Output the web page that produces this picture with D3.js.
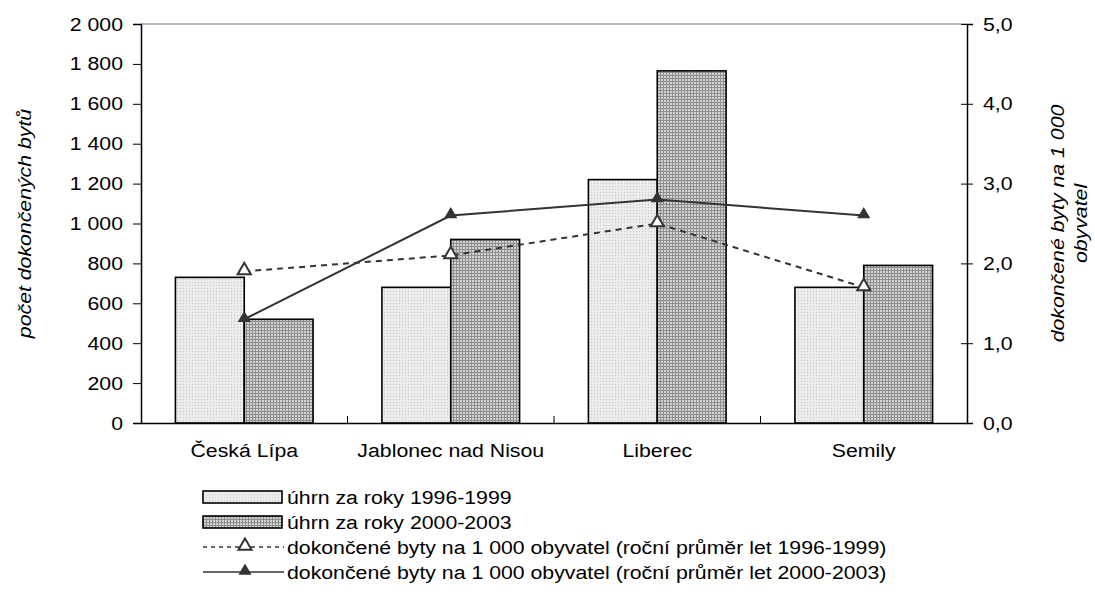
<!DOCTYPE html>
<html>
<head>
<meta charset="utf-8">
<script src="https://cdn.jsdelivr.net/npm/d3@7"></script>
<style>
  body { margin: 0; background: #fff; }
  text { font-family: "Liberation Sans", Arial, sans-serif; fill: #000; }
</style>
</head>
<body>
<div id="chartDiv"></div>
<script>
// data
var districts = ["Česká Lípa", "Jablonec nad Nisou", "Liberec", "Semily"];
var total9699 = [730, 680, 1220, 680];
var total0003 = [520, 920, 1765, 790];
var per1000_9699 = [1.9, 2.1, 2.5, 1.7];
var per1000_0003 = [1.3, 2.6, 2.8, 2.6];
var leftTicks = [0, 200, 400, 600, 800, 1000, 1200, 1400, 1600, 1800, 2000];
var rightTicks = [0, 1, 2, 3, 4, 5];
var legendLabels = [
    "úhrn za roky 1996-1999",
    "úhrn za roky 2000-2003",
    "dokončené byty na 1 000 obyvatel (roční průměr let 1996-1999)",
    "dokončené byty na 1 000 obyvatel (roční průměr let 2000-2003)"
];

var W = 1095, H = 604;
var margin = { top: 24, right: 128, bottom: 181, left: 141 };
var width = W - margin.left - margin.right,
    height = H - margin.top - margin.bottom;
var FS = "19px", SX = 1.12;   // the original text is a bit wider than Arial

var svg = d3.select("#chartDiv").append("svg")
    .attr("width", W)
    .attr("height", H);

// move the x of each text into a transform so it can be widened
function widen(sel) {
    sel.each(function () {
        var t = d3.select(this);
        var tx = +t.attr("x") || 0, ty = +t.attr("y") || 0;
        t.attr("x", 0).attr("y", 0)
            .attr("transform", "translate(" + tx + "," + ty + ") scale(" + SX + ",1)")
            .style("font-size", FS);
    });
}

// fill patterns go in defs
var defs = svg.append("defs");
var p1 = defs.append("pattern").attr("id", "pat1")
    .attr("width", 3).attr("height", 3).attr("patternUnits", "userSpaceOnUse");
p1.append("rect").attr("width", 3).attr("height", 3).attr("fill", "#ececec");
p1.append("rect").attr("width", 1).attr("height", 1).attr("fill", "#c8c8c8");
var p2 = defs.append("pattern").attr("id", "pat2")
    .attr("width", 3).attr("height", 3).attr("patternUnits", "userSpaceOnUse");
p2.append("rect").attr("width", 3).attr("height", 3).attr("fill", "#8e8e8e");
p2.append("rect").attr("x", 1).attr("y", 1).attr("width", 2).attr("height", 2).attr("fill", "#d2d2d2");

var g = svg.append("g")
    .attr("transform", "translate(" + margin.left + "," + margin.top + ")");

var x = d3.scaleBand().domain(districts).range([0, width]);
var xs = d3.scaleBand().domain([0, 1]).range([0, x.bandwidth()]).paddingOuter(0.5).paddingInner(0);
var y = d3.scaleLinear().domain([0, 2000]).range([height, 0]);
var y2 = d3.scaleLinear().domain([0, 5]).range([height, 0]);

var fmtLeft = function (d) { return d3.format(",")(d).replace(",", " "); };
var fmtRight = function (d) { return d.toFixed(1).replace(".", ","); };

// plot frame (top line)
g.append("line").attr("x1", 0).attr("x2", width).attr("y1", 0).attr("y2", 0)
    .attr("stroke", "#777").attr("stroke-width", 1);

// bars
var series = [total9699, total0003];
series.forEach(function (vals, si) {
    g.selectAll(".bar" + si)
        .data(vals)
        .enter().append("rect")
        .attr("x", function (d, i) { return x(districts[i]) + xs(si); })
        .attr("y", function (d) { return y(d); })
        .attr("width", xs.bandwidth())
        .attr("height", function (d) { return height - y(d); })
        .attr("fill", "url(#pat" + (si + 1) + ")")
        .attr("stroke", "#000")
        .attr("stroke-width", 1.6);
});

// left axis
var yAxis = g.append("g")
    .call(d3.axisLeft(y).tickValues(leftTicks).tickFormat(fmtLeft).tickSize(8).tickPadding(10));
yAxis.select(".domain").attr("stroke", "#000").attr("stroke-width", 1.5);
widen(yAxis.selectAll("text"));

// right axis
var y2Axis = g.append("g").attr("transform", "translate(" + width + ",0)")
    .call(d3.axisRight(y2).tickValues(rightTicks).tickFormat(fmtRight).tickSize(6).tickPadding(10));
y2Axis.select(".domain").attr("stroke", "#000").attr("stroke-width", 1.5);
y2Axis.selectAll(".tick line").attr("x1", -6);
widen(y2Axis.selectAll("text"));

// x axis
var xAxis = g.append("g").attr("transform", "translate(0," + height + ")")
    .call(d3.axisBottom(x).tickSize(0).tickPadding(21));
xAxis.select(".domain").attr("stroke", "#000").attr("stroke-width", 1.5);
widen(xAxis.selectAll("text"));
// separators between categories, pointing up
g.selectAll(".sep")
    .data(districts.slice(1))
    .enter().append("line")
    .attr("x1", function (d) { return x(d); })
    .attr("x2", function (d) { return x(d); })
    .attr("y1", height).attr("y2", height - 7)
    .attr("stroke", "#000");

// lines
var cx = function (d, i) { return x(districts[i]) + x.bandwidth() / 2; };
var line = d3.line().x(cx).y(function (d) { return y2(d); });
var tri = d3.symbol().type(d3.symbolTriangle).size(75);

g.append("path").datum(per1000_9699)
    .attr("d", line).attr("fill", "none")
    .attr("stroke", "#333").attr("stroke-width", 2).attr("stroke-dasharray", "6,5");
g.append("path").datum(per1000_0003)
    .attr("d", line).attr("fill", "none")
    .attr("stroke", "#333").attr("stroke-width", 2);

g.selectAll(".m1").data(per1000_9699).enter().append("path")
    .attr("d", tri)
    .attr("transform", function (d, i) { return "translate(" + cx(d, i) + "," + (y2(d) - 1) + ")"; })
    .attr("fill", "#fff").attr("stroke", "#333").attr("stroke-width", 2);
g.selectAll(".m2").data(per1000_0003).enter().append("path")
    .attr("d", tri)
    .attr("transform", function (d, i) { return "translate(" + cx(d, i) + "," + (y2(d) - 1) + ")"; })
    .attr("fill", "#333");

// axis titles
svg.append("text")
    .attr("transform", "translate(31," + (margin.top + height / 2) + ") rotate(-90) scale(" + SX + ",1)")
    .attr("text-anchor", "middle")
    .style("font-size", FS).style("font-style", "italic")
    .text("počet dokončených bytů");
var rt = svg.append("text")
    .attr("transform", "translate(1064," + (margin.top + height / 2) + ") rotate(-90) scale(" + SX + ",1)")
    .attr("text-anchor", "middle")
    .style("font-size", FS).style("font-style", "italic");
rt.append("tspan").attr("x", 0).attr("dy", 0).text("dokončené byty na 1 000");
rt.append("tspan").attr("x", 0).attr("dy", 23).text("obyvatel");

// legend
var leg = svg.append("g").attr("transform", "translate(203,497)");
var rowH = 25;
legendLabels.forEach(function (lab, i) {
    var r = leg.append("g").attr("transform", "translate(0," + i * rowH + ")");
    if (i < 2) {
        r.append("rect").attr("x", 0).attr("y", -6).attr("width", 79).attr("height", 12)
            .attr("fill", "url(#pat" + (i + 1) + ")").attr("stroke", "#000").attr("stroke-width", 1.6);
    } else {
        r.append("line").attr("x1", 0).attr("x2", 81).attr("y1", 0).attr("y2", 0)
            .attr("stroke", "#333").attr("stroke-width", 1.5)
            .attr("stroke-dasharray", i === 2 ? "4,4" : null);
        r.append("path").attr("d", tri)
            .attr("transform", "translate(42,-1)")
            .attr("fill", i === 2 ? "#fff" : "#333")
            .attr("stroke", "#333").attr("stroke-width", i === 2 ? 2 : 0);
    }
    r.append("text").attr("transform", "translate(84,7) scale(" + SX + ",1)")
        .style("font-size", FS).text(lab);
});
</script>
</body>
</html>
